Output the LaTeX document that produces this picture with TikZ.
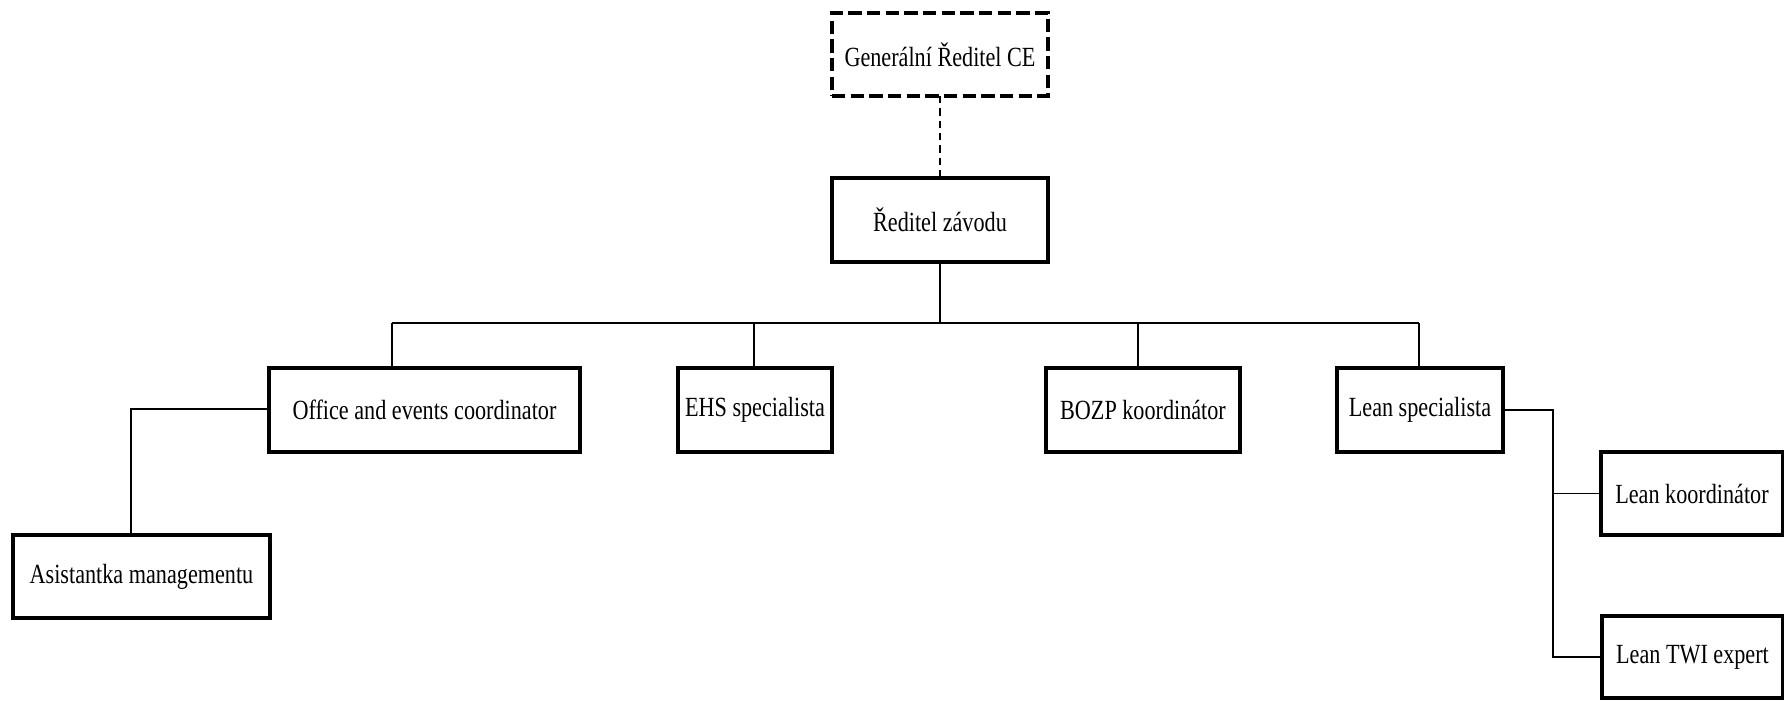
\documentclass[tikz,border=0pt]{standalone}
\usepackage{fontspec}
\setmainfont[FakeStretch=0.8]{Liberation Serif}
\begin{document}
\begin{tikzpicture}[x=0.75pt,y=-0.75pt,
  box/.style={draw,line width=3.2pt,rectangle,inner sep=0pt,outer sep=0pt,
    font=\fontsize{20.8}{24}\selectfont,align=center,minimum height=63pt},
  dbox/.style={box,dash pattern=on 10pt off 4pt},
  link/.style={line width=1pt},
  dlink/.style={line width=1pt,dash pattern=on 5.5pt off 3.75pt}]
\useasboundingbox (0,0) rectangle (1784,700);
\fill[white] (0,0) rectangle (1784,700);

\node[dbox,minimum width=162pt,minimum height=62.25pt] (gen) at (940,54.5) {Generální Ředitel CE};
\node[box,minimum width=162pt] (red) at (940,220) {Ředitel závodu};
\node[box,minimum width=233.25pt] (office) at (424.5,410) {Office and events coordinator};
\node[box,minimum width=115.5pt] (ehs) at (755,410) {EHS specialista};
\node[box,minimum width=145.5pt] (bozp) at (1143,410) {BOZP koordinátor};
\node[box,minimum width=124.5pt] (lean) at (1420,410) {Lean specialista};
\node[box,minimum width=192.75pt,minimum height=62.25pt] (asist) at (141.5,576.5) {Asistantka managementu};
\node[box,minimum width=136.5pt,minimum height=62.25pt] (koord) at (1692,493.5) {Lean koordinátor};
\node[box,minimum width=135.75pt,minimum height=61.5pt] (twi) at (1692.5,657) {Lean TWI expert};

\draw[dlink] (gen.south) -- (red.north);

\coordinate (bl) at (392,323);
\coordinate (br) at (1419,323);
\coordinate (be) at (754,323);
\coordinate (bb) at (1138,323);
\draw[link] (red.south) -- (red.south |- bl);
\draw[link] (bl) -- (br);
\draw[link] (bl) -- (bl |- office.north);
\draw[link] (be) -- (be |- ehs.north);
\draw[link] (bb) -- (bb |- bozp.north);
\draw[link] (br) -- (br |- lean.north);

\coordinate (oa) at (131,409);
\draw[link] (office.west |- oa) -- (oa) -- (oa |- asist.north);

\coordinate (la) at (1553,411);
\draw[link] (lean.east) -- (la |- lean.east) -- (la |- twi.west) -- (twi.west);
\draw[link] (la |- koord.west) -- (koord.west);
\end{tikzpicture}
\end{document}
